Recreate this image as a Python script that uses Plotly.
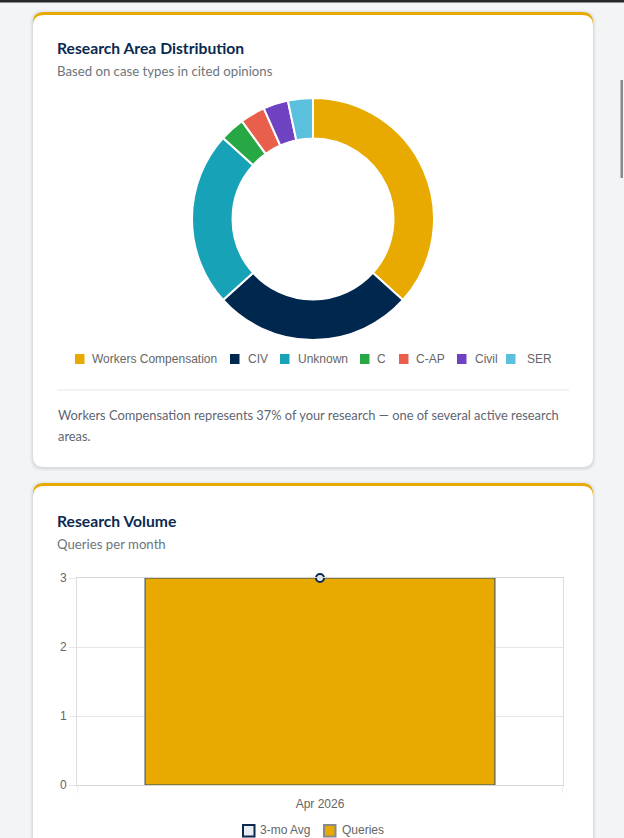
import plotly.graph_objects as go

# ---------------- data ----------------
area_labels = ["Workers Compensation", "CIV", "Unknown", "C", "C-AP", "Civil", "SER"]
area_counts = [11, 8, 7, 1, 1, 1, 1]
area_colors = ["#E8AA00", "#00284F", "#17A2B8", "#28A745", "#E8604C", "#6F42C1", "#5BC0DE"]

months = ["Apr 2026"]
queries = [3]
avg3 = [3]
y_ticks = [0, 1, 2, 3]

W, H = 624, 838
GOLD = "#E8AA00"
NAVY = "#0B2A4F"


def X(px):
    return px / W


def Y(py):
    return 1 - py / H


def rrect(x0, y0, x1, y1, r):
    p = (f"M {X(x0 + r)} {Y(y0)} L {X(x1 - r)} {Y(y0)} Q {X(x1)} {Y(y0)} {X(x1)} {Y(y0 + r)} "
         f"L {X(x1)} {Y(y1 - r)} Q {X(x1)} {Y(y1)} {X(x1 - r)} {Y(y1)} "
         f"L {X(x0 + r)} {Y(y1)} Q {X(x0)} {Y(y1)} {X(x0)} {Y(y1 - r)} "
         f"L {X(x0)} {Y(y0 + r)} Q {X(x0)} {Y(y0)} {X(x0 + r)} {Y(y0)} Z")
    return p


shapes = []
annotations = []


def card(x0, y0, x1, y1):
    for d, a in [(3, 0.025), (2, 0.03), (1, 0.04)]:
        shapes.append(dict(type="path", xref="paper", yref="paper", layer="below",
                           path=rrect(x0 - d, y0 - d + 1, x1 + d, y1 + d + 1, 12),
                           fillcolor=f"rgba(0,0,0,{a})", line=dict(width=0)))
    shapes.append(dict(type="path", xref="paper", yref="paper", layer="below",
                       path=rrect(x0, y0, x1, y0 + 30, 11), fillcolor=GOLD, line=dict(width=0)))
    shapes.append(dict(type="path", xref="paper", yref="paper", layer="below",
                       path=rrect(x0, y0 + 3, x1, y1, 11), fillcolor="white", line=dict(width=0)))


def text(x, y, s, size, color, family="Lato", bold=False):
    # x is the pixel where the glyphs start; annotation padding is ~2px
    annotations.append(dict(xref="paper", yref="paper", x=X(x - 2), y=Y(y), text=(f"<b>{s}</b>" if bold else s),
                            showarrow=False, xanchor="left", yanchor="middle",
                            font=dict(size=size, color=color, family=family)))


# top dark strip & scrollbar thumb
shapes.append(dict(type="rect", xref="paper", yref="paper", x0=0, x1=1, y0=Y(2.5), y1=1,
                   fillcolor="#26272b", line=dict(width=0)))
shapes.append(dict(type="rect", xref="paper", yref="paper", x0=X(620.5), x1=X(623), y0=Y(178), y1=Y(80),
                   fillcolor="#8a8a8a", line=dict(width=0)))

# cards
card(33, 12, 593, 467)
card(33, 483, 593, 900)

# card 1 texts
text(57, 48, "Research Area Distribution", 15.7, "#0B2A4F", bold=True)
text(57, 71, "Based on case types in cited opinions", 13.2, "#6C757D")
shapes.append(dict(type="line", xref="paper", yref="paper", x0=X(57), x1=X(569), y0=Y(390), y1=Y(390),
                   line=dict(color="#E6E6E6", width=1)))
text(57.5, 415, "Workers Compensation represents 37% of your research \u2014 one of several active research",
     12.85, "#5F6672")
text(57.5, 436, "areas.", 12.85, "#5F6672")

# pie legend
leg_x = [75, 230, 280, 360, 399, 457, 506]
leg_tx = [92, 247.5, 297.5, 377, 416, 475, 526.5]
for lx, tx, lab, col in zip(leg_x, leg_tx, area_labels, area_colors):
    shapes.append(dict(type="rect", xref="paper", yref="paper", x0=X(lx), x1=X(lx + 9.5),
                       y0=Y(364), y1=Y(354), fillcolor=col, line=dict(width=0)))
    text(tx, 359, lab, 12, "#666666", family="Liberation Sans")

# card 2 texts
text(57, 521, "Research Volume", 15.7, "#0B2A4F", bold=True)
text(57, 544, "Queries per month", 13.2, "#6C757D")

# bar legend
shapes.append(dict(type="rect", xref="paper", yref="paper", x0=X(243), x1=X(254.5), y0=Y(836.5), y1=Y(825),
                   fillcolor="#E8EDF4", line=dict(color=NAVY, width=2)))
text(260, 830, "3-mo Avg", 12, "#666666", family="Liberation Sans")
shapes.append(dict(type="rect", xref="paper", yref="paper", x0=X(324), x1=X(335.5), y0=Y(836.5), y1=Y(825),
                   fillcolor=GOLD, line=dict(color="#8A8A8A", width=2)))
text(342, 830, "Queries", 12, "#666666", family="Liberation Sans")

# x-axis boundary ticks
for bx in [-0.5, 0.5]:
    shapes.append(dict(type="line", xref="x", yref="paper", x0=bx, x1=bx, y0=Y(785), y1=Y(793),
                       line=dict(color="#DDDDDD", width=1)))

fig = go.Figure()

fig.add_trace(go.Pie(
    labels=area_labels, values=area_counts, sort=False, direction="clockwise", rotation=0,
    hole=0.665, marker=dict(colors=area_colors, line=dict(color="white", width=2)),
    textinfo="none", showlegend=False, automargin=False,
    domain=dict(x=[X(192), X(434)], y=[Y(340), Y(98)]),
))

fig.add_trace(go.Bar(
    x=months, y=queries, name="Queries", width=0.72,
    marker=dict(color=GOLD, line=dict(color="#2C4A6E", width=1)),
    showlegend=False, xaxis="x", yaxis="y",
))
fig.add_trace(go.Scatter(
    x=months, y=avg3, name="3-mo Avg", mode="markers",
    marker=dict(size=8, color="#E8EDF4", line=dict(color=NAVY, width=2)),
    showlegend=False, xaxis="x", yaxis="y", cliponaxis=False,
))

fig.update_layout(
    width=W, height=H, autosize=False, showlegend=False,
    margin=dict(l=0, r=0, t=0, b=0, pad=0, autoexpand=False),
    paper_bgcolor="#F3F4F6", plot_bgcolor="white",
    shapes=shapes, annotations=annotations,
    xaxis=dict(domain=[X(77), X(563)], range=[-0.5, 0.5], showgrid=False, showline=True, automargin=False,
               linecolor="#D6D6D6", mirror=True, ticks="", zeroline=False,
               tickfont=dict(family="Liberation Sans", size=12, color="#666666"), ticklabelstandoff=8),
    yaxis=dict(domain=[Y(785), Y(578)], range=[0, 3], tickvals=y_ticks, showgrid=True, automargin=False,
               gridcolor="#E6E6E6", showline=True, linecolor="#DDDDDD", mirror=True,
               ticks="outside", ticklen=7, tickcolor="#E6E6E6", zeroline=False,
               tickfont=dict(family="Liberation Sans", size=12, color="#666666")),
    bargap=0.28,
)

fig.write_html("out.html")
